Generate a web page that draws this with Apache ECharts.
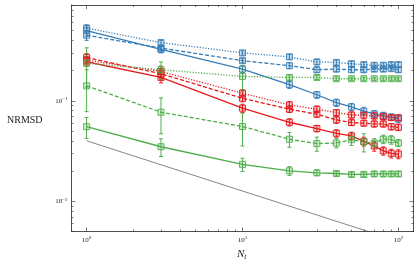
<!DOCTYPE html>
<html>
<head>
<meta charset="utf-8">
<script src="https://cdn.jsdelivr.net/npm/echarts@6/dist/echarts.min.js"></script>
<style>
html,body{margin:0;padding:0;background:#fff;}
#chart{width:419px;height:266px;}
</style>
</head>
<body>
<div id="chart"></div>
<script>
// ---- data ----
const Nt = [1, 3, 10, 20, 30, 40, 50, 60, 70, 80, 90, 100];

const blueSolid      = [0.50, 0.325, 0.207, 0.145, 0.115, 0.096, 0.087, 0.079, 0.074, 0.071, 0.069, 0.066];
const blueSolidErr   = [0.06, 0.025, 0.015, 0.012, 0.009, 0.008, 0.007, 0.007, 0.006, 0.006, 0.005, 0.005];
const blueDashed     = [0.45, 0.335, 0.251, 0.224, 0.204, 0.207, 0.204, 0.204, 0.207, 0.207, 0.209, 0.204];
const blueDashedErr  = [0.05, 0.02, 0.012, 0.015, 0.012, 0.012, 0.012, 0.011, 0.011, 0.011, 0.011, 0.011];
const blueDotted     = [0.53, 0.38, 0.30, 0.274, 0.244, 0.241, 0.234, 0.229, 0.226, 0.226, 0.229, 0.229];
const blueDottedErr  = [0.04, 0.02, 0.015, 0.015, 0.015, 0.014, 0.014, 0.013, 0.013, 0.013, 0.013, 0.013];

const redSolid       = [0.245, 0.171, 0.0845, 0.0612, 0.053, 0.0475, 0.0447, 0.0394, 0.0355, 0.0318, 0.030, 0.0295];
const redSolidErr    = [0.025, 0.02, 0.008, 0.005, 0.004, 0.004, 0.004, 0.004, 0.004, 0.003, 0.003, 0.003];
const redDashed      = [0.27, 0.186, 0.106, 0.0826, 0.0736, 0.0646, 0.0607, 0.060, 0.0589, 0.0589, 0.0553, 0.0545];
const redDashedErr   = [0.025, 0.02, 0.008, 0.006, 0.005, 0.005, 0.004, 0.004, 0.004, 0.004, 0.004, 0.004];
const redDotted      = [0.255, 0.196, 0.119, 0.091, 0.0826, 0.0764, 0.0724, 0.072, 0.0708, 0.0697, 0.068, 0.068];
const redDottedErr   = [0.02, 0.025, 0.01, 0.007, 0.006, 0.005, 0.005, 0.005, 0.005, 0.004, 0.004, 0.004];

const greenSolid     = [0.0553, 0.0349, 0.0233, 0.0201, 0.0192, 0.0189, 0.0185, 0.0185, 0.0187, 0.0187, 0.0187, 0.0187];
const greenSolidErr  = [0.013, 0.007, 0.0035, 0.002, 0.0012, 0.001, 0.001, 0.001, 0.001, 0.001, 0.001, 0.001];
const greenDashed    = [0.141, 0.077, 0.0555, 0.0415, 0.0375, 0.038, 0.041, 0.039, 0.038, 0.0415, 0.041, 0.038];
const greenDashedErr = [0.063, 0.03, 0.02, 0.007, 0.006, 0.004, 0.005, 0.008, 0.004, 0.004, 0.004, 0.003];
const greenDotted    = [0.237, 0.204, 0.175, 0.171, 0.171, 0.166, 0.166, 0.166, 0.166, 0.166, 0.166, 0.166];
const greenDottedErr = [0.1, 0.04, 0.05, 0.01, 0.008, 0.007, 0.006, 0.006, 0.006, 0.006, 0.006, 0.006];

// reference slope line  ~ N^-1/2
const refX = [1, 100];
const refY = [0.04, 0.004];

// tick values
const xMajor = [1, 10, 100];
const xMinor = [2,3,4,5,6,7,8,9,20,30,40,50,60,70,80,90];
const yMajor = [0.01, 0.1];
const yMinor = [0.005,0.006,0.007,0.008,0.009,0.02,0.03,0.04,0.05,0.06,0.07,0.08,0.09,0.2,0.3,0.4,0.5,0.6,0.7,0.8,0.9];

// ---- chart ----
const BLUE = '#377eb8', RED = '#e41a1c', GREEN = '#4daf4a';
const XMIN = 0.8, XMAX = 125, YMIN = 0.005, YMAX = 0.9;
const FONT = 'Liberation Serif';
const AX = '#222';

function pow10Label(v) {
  const e = Math.round(Math.log10(v));
  return '{b|10}{s|' + String(e).replace('-', '\u2212') + '}';
}
const richLbl = {
  b: {fontFamily: FONT, fontSize: 7, color: '#222', lineHeight: 9},
  s: {fontFamily: FONT, fontSize: 5, color: '#222', lineHeight: 9, padding: [0, 0, 4, 0]}
};

function xAx(pos, ticks, len, showLine, showLabel) {
  return {
    type: 'log', min: XMIN, max: XMAX, position: pos, gridIndex: 0,
    axisLine: {show: showLine, lineStyle: {color: AX, width: 0.8}},
    axisTick: {show: true, inside: true, length: len, customValues: ticks, lineStyle: {color: AX, width: 0.6}},
    axisLabel: {show: showLabel, customValues: ticks, formatter: pow10Label, rich: richLbl, margin: 4},
    splitLine: {show: false}, minorTick: {show: false}
  };
}
function yAx(pos, ticks, len, showLine, showLabel) {
  return {
    type: 'log', min: YMIN, max: YMAX, position: pos, gridIndex: 0,
    axisLine: {show: showLine, lineStyle: {color: AX, width: 0.8}},
    axisTick: {show: true, inside: true, length: len, customValues: ticks, lineStyle: {color: AX, width: 0.6}},
    axisLabel: {show: showLabel, customValues: ticks, formatter: pow10Label, rich: richLbl, margin: 4},
    splitLine: {show: false}, minorTick: {show: false}
  };
}

const styles = {solid: 'solid', dashed: [4, 2], dotted: [1.2, 1.6]};

function mkLine(name, vals, color, type) {
  return {
    name, type: 'line', xAxisIndex: 0, yAxisIndex: 0,
    data: Nt.map((x, i) => [x, vals[i]]),
    symbol: 'rect', symbolSize: 6,
    lineStyle: {color, width: 1.3, type: styles[type]},
    itemStyle: {color: color + '38', borderColor: color, borderWidth: 0.9},
    z: 3, animation: false
  };
}
function mkErr(vals, errs, color) {
  return {
    type: 'custom', xAxisIndex: 0, yAxisIndex: 0, z: 2, animation: false, clip: true,
    data: Nt.map((x, i) => [x, vals[i], Math.max(vals[i] - errs[i], 1e-4), vals[i] + errs[i]]),
    encode: {x: 0, y: [1, 2, 3]},
    renderItem(params, api) {
      const x = api.value(0);
      const p1 = api.coord([x, api.value(2)]);
      const p2 = api.coord([x, api.value(3)]);
      const st = {stroke: color, lineWidth: 1};
      const w = 2;
      return {type: 'group', children: [
        {type: 'line', shape: {x1: p1[0], y1: p1[1], x2: p2[0], y2: p2[1]}, style: st},
        {type: 'line', shape: {x1: p1[0]-w, y1: p1[1], x2: p1[0]+w, y2: p1[1]}, style: st},
        {type: 'line', shape: {x1: p2[0]-w, y1: p2[1], x2: p2[0]+w, y2: p2[1]}, style: st}
      ]};
    }
  };
}

const defs = [
  ['blue solid', blueSolid, blueSolidErr, BLUE, 'solid'],
  ['blue dashed', blueDashed, blueDashedErr, BLUE, 'dashed'],
  ['blue dotted', blueDotted, blueDottedErr, BLUE, 'dotted'],
  ['red solid', redSolid, redSolidErr, RED, 'solid'],
  ['red dashed', redDashed, redDashedErr, RED, 'dashed'],
  ['red dotted', redDotted, redDottedErr, RED, 'dotted'],
  ['green solid', greenSolid, greenSolidErr, GREEN, 'solid'],
  ['green dashed', greenDashed, greenDashedErr, GREEN, 'dashed'],
  ['green dotted', greenDotted, greenDottedErr, GREEN, 'dotted']
];

const series = [];
defs.forEach(d => { series.push(mkErr(d[1], d[2], d[3])); });
defs.forEach(d => { series.push(mkLine(d[0], d[1], d[3], d[4])); });
series.push({
  name: 'ref', type: 'line', xAxisIndex: 0, yAxisIndex: 0, clip: true,
  data: refX.map((x, i) => [x, refY[i]]), symbol: 'none',
  lineStyle: {color: '#333', width: 0.6}, z: 1, animation: false
});

const chart = echarts.init(document.getElementById('chart'), null, {renderer: 'canvas'});
chart.setOption({
  animation: false,
  backgroundColor: '#fff',
  grid: {left: 71.5, right: 5.5, top: 5, bottom: 34.5, containLabel: false},
  xAxis: [
    xAx('bottom', xMajor, 4, true, true),
    xAx('bottom', xMinor, 2, false, false),
    xAx('top', xMajor, 4, true, false),
    xAx('top', xMinor, 2, false, false)
  ],
  yAxis: [
    yAx('left', yMajor, 4, true, true),
    yAx('left', yMinor, 2, false, false),
    yAx('right', yMajor, 4, true, false),
    yAx('right', yMinor, 2, false, false)
  ],
  graphic: [
    {type: 'text', left: 7, top: 115, style: {text: 'NRMSD', fontFamily: FONT, fontSize: 10, fill: '#222'}},
    {type: 'text', left: 237, top: 248, style: {
      text: '{n|N}{t|t}', fill: '#222',
      rich: {n: {fontFamily: FONT, fontStyle: 'italic', fontSize: 11, lineHeight: 13},
             t: {fontFamily: FONT, fontStyle: 'italic', fontSize: 7.5, lineHeight: 13, padding: [5, 0, 0, 0]}}
    }}
  ],
  series
});
</script>
</body>
</html>
